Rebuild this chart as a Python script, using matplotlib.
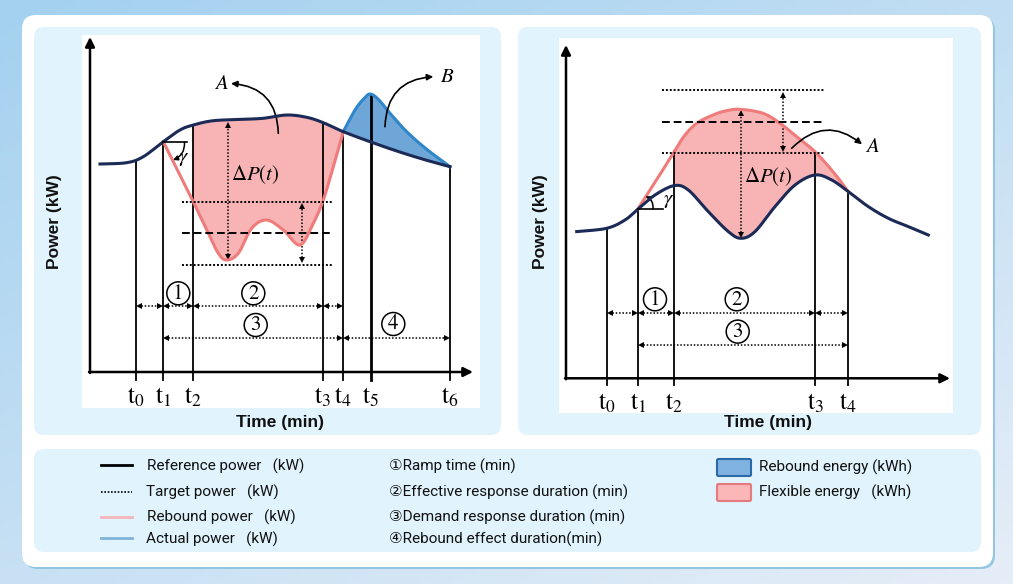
import numpy as np
import matplotlib.pyplot as plt
from matplotlib.patches import FancyBboxPatch, Circle

plt.rcParams['mathtext.fontset'] = 'stix'

# === DATA (schematic units: offset from each axis origin) ===
# left panel: rebound case
L_ref_x = [10, 36.7, 53.3, 73.3, 90, 103.3, 123.3, 153.3, 173.3, 196.7, 216.7, 233.3, 253.3, 280, 306.7, 333.3, 360]
L_ref_y = [208, 209.3, 215.3, 230.3, 242, 247, 251.3, 252.7, 253.7, 257, 254.7, 249.3, 240.3, 230.3, 221, 212.7, 205.3]
L_pink_x = [73.3, 88.3, 103.3, 116.7, 128.3, 136.7, 148.3, 161.7, 176.7, 193.3, 210, 223.3, 233.3, 243.3, 253.3]
L_pink_y = [230.3, 200.3, 170.3, 142, 118.7, 112, 118.7, 143.7, 152, 142, 127, 148.7, 172, 205.3, 240.3]
L_blue_x = [253.3, 265, 273.3, 280, 288.3, 300, 316.7, 336.7, 360]
L_blue_y = [240.3, 262, 272.7, 278, 272.7, 258.7, 240.3, 222.7, 205.3]
L_times = [46, 73.3, 103.3, 232.7, 253.3, 280.7, 360]
L_time_top = [210, 230.3, 247, 249.3, 240.3, 277, 205.3]
L_levels = [170.3, 138.7, 107]

# right panel: upward response case
R_ref_x = [10.7, 40.7, 59, 71.7, 89, 108.3, 122.3, 142.3, 162.3, 175, 189, 209, 229, 249, 265.7, 282.3, 302.3, 322.3, 342.3, 362.3]
R_ref_y = [146.7, 150, 158.3, 169, 183.3, 192.7, 188.3, 166.7, 146.7, 140, 146.7, 171.7, 193.3, 203.3, 198.3, 186.7, 171.7, 160, 151.7, 143.3]
R_pink_x = [71.7, 89, 107.3, 118, 130.7, 147, 160, 174, 197, 214, 230.7, 249, 267, 282.3]
R_pink_y = [169, 196, 225, 242, 255, 263.3, 267.5, 269, 265, 255, 241.6, 226.6, 206.6, 186.7]
R_times = [40.7, 71.7, 108.3, 249, 282.3]
R_time_top = [150, 169, 227.7, 226.6, 186.7]
R_levels = [288.3, 256.7, 225.7]

REF = '#1b2a56'
PINK = '#ef7b7b'
PINK_FILL = '#f8b4b4'
BLUE = '#2f86c9'
BLUE_FILL = '#6fa6d8'


def smooth(xs, ys, n=24):
    # Catmull-Rom drawing of a curve through the read points
    pts = np.column_stack([xs, ys]).astype(float)
    p = np.vstack([pts[0], pts, pts[-1]])
    t = np.linspace(0, 1, n, endpoint=False)[:, None]
    out = []
    for i in range(1, len(p) - 2):
        p0, p1, p2, p3 = p[i - 1], p[i], p[i + 1], p[i + 2]
        out.append(0.5 * (2 * p1 + (-p0 + p2) * t + (2 * p0 - 5 * p1 + 4 * p2 - p3) * t ** 2
                          + (-p0 + 3 * p1 - 3 * p2 + p3) * t ** 3))
    out.append(pts[-1:])
    return np.vstack(out)


def band(upper, lower, x0, x1):
    a = upper[(upper[:, 0] >= x0 - 0.01) & (upper[:, 0] <= x1 + 0.01)]
    b = lower[(lower[:, 0] >= x0 - 0.01) & (lower[:, 0] <= x1 + 0.01)][::-1]
    return np.vstack([a, b])


def harrow(ax, x0, x1, y):
    ax.plot([x0 + 2, x1 - 2], [y, y], ls=(0, (1, 1.2)), color='k', lw=1.1)
    ax.plot([x0 + 3], [y], marker='<', ms=4, color='k', mew=0)
    ax.plot([x1 - 3], [y], marker='>', ms=4, color='k', mew=0)


def varrow(ax, x, y0, y1):
    ax.plot([x, x], [y0 + 2, y1 - 2], ls=(0, (1, 1.2)), color='k', lw=1.1)
    ax.plot([x], [y0 + 3], marker='v', ms=4, color='k', mew=0)
    ax.plot([x], [y1 - 3], marker='^', ms=4, color='k', mew=0)


def circ(ax, x, y, s):
    ax.add_patch(Circle((x, y), 11.5, fill=False, lw=1.1, color='k', zorder=5))
    ax.text(x, y - 0.5, s, ha='center', va='center', fontsize=15, zorder=5,
            family='STIXGeneral')


def setup(ax, xlim, ylim, xend, yend):
    ax.set_xlim(*xlim)
    ax.set_ylim(*ylim)
    ax.set_facecolor('white')
    for s in ax.spines.values():
        s.set_visible(False)
    ax.set_xticks([])
    ax.set_yticks([])
    ax.annotate('', xy=(0, yend), xytext=(0, -1),
                arrowprops=dict(arrowstyle='-|>', lw=1.8, color='k', mutation_scale=14,
                                shrinkA=0, shrinkB=0))
    ax.annotate('', xy=(xend, 0), xytext=(-1, 0),
                arrowprops=dict(arrowstyle='-|>', lw=1.8, color='k', mutation_scale=14,
                                shrinkA=0, shrinkB=0))


W, H = 1013, 584
fig = plt.figure(figsize=(W / 100, H / 100), dpi=100)

# background, cards and panels in pixel coordinates
bg = fig.add_axes([0, 0, 1, 1], zorder=-1)
bg.set_xlim(0, W)
bg.set_ylim(H, 0)
bg.axis('off')
gx, gy = np.meshgrid(np.linspace(0, 1, 200), np.linspace(0, 1, 120))
grad = np.clip(0.55 * gy + 0.45 * gx, 0, 1)
c0 = np.array([0.64, 0.82, 0.94])
c1 = np.array([0.90, 0.93, 0.97])
img = c0 + (c1 - c0) * grad[..., None]
bg.imshow(img, extent=[0, W, H, 0], aspect='auto', zorder=0)
bg.add_patch(FancyBboxPatch((24, 17), 971, 552, boxstyle='round,pad=0,rounding_size=14',
                            fc='#93c6e0', ec='none', zorder=1))
bg.add_patch(FancyBboxPatch((22, 15), 971, 552, boxstyle='round,pad=0,rounding_size=14',
                            fc='white', ec='none', zorder=2))
for (x0, y0, w, h) in [(34, 27, 467, 408), (518, 27, 463, 408), (34, 449, 947, 103)]:
    bg.add_patch(FancyBboxPatch((x0, y0), w, h, boxstyle='round,pad=0,rounding_size=10',
                                fc='#e1f3fc', ec='none', zorder=3))

lab = dict(fontsize=12.5, fontweight='bold', family='Liberation Sans', color='#111111', zorder=5)
bg.text(55, 222, 'Power (kW)', rotation=90, ha='center', va='center', **lab)
bg.text(280, 422, 'Time (min)', ha='center', va='center', **lab)
bg.text(541, 222, 'Power (kW)', rotation=90, ha='center', va='center', **lab)
bg.text(768, 423, 'Time (min)', ha='center', va='center', **lab)

# legend
leg = dict(fontsize=11, family=['Roboto', 'DejaVu Sans'], va='center', color='#111111', zorder=5)
bg.plot([101, 132], [465, 465], color='k', lw=2, zorder=5)
bg.plot([101, 132], [491.5, 491.5], color='k', lw=1.2, ls=(0, (1, 1)), zorder=5)
bg.plot([101, 132], [516.5, 516.5], color='#f3b5b8', lw=2, zorder=5)
bg.plot([101, 132], [537.5, 537.5], color='#7fb3da', lw=2, zorder=5)
bg.text(147, 466, 'Reference power   (kW)', **leg)
bg.text(146, 492, 'Target power   (kW)', **leg)
bg.text(147, 517, 'Rebound power   (kW)', **leg)
bg.text(146, 539, 'Actual power   (kW)', **leg)
bg.text(389, 466, '\u2460Ramp time (min)', **leg)
bg.text(389, 492, '\u2461Effective response duration (min)', **leg)
bg.text(389, 517, '\u2462Demand response duration (min)', **leg)
bg.text(389, 539, '\u2463Rebound effect duration(min)', **leg)
bg.add_patch(FancyBboxPatch((717, 459), 34, 17, boxstyle='round,pad=0,rounding_size=1.5',
                            fc='#7fb2df', ec='#2a6aa8', lw=1.5, zorder=5))
bg.add_patch(FancyBboxPatch((717, 484), 34, 17, boxstyle='round,pad=0,rounding_size=1.5',
                            fc='#fbb6b8', ec='#e57b7e', lw=1.5, zorder=5))
bg.text(759, 467, 'Rebound energy (kWh)', **leg)
bg.text(759, 492, 'Flexible energy   (kWh)', **leg)

tl = ['$\\mathrm{t}_{%d}$' % i for i in range(7)]

# === LEFT PANEL ===
axL = fig.add_axes([82 / W, 1 - 408 / H, 398 / W, 373 / H])
setup(axL, (-8, 390), (-36, 337), 383, 335)
ref = smooth(L_ref_x, L_ref_y)
pink = smooth(L_pink_x, L_pink_y)
blue = smooth(L_blue_x, L_blue_y)
axL.fill(*band(ref, pink, L_times[2], L_times[4]).T, color=PINK_FILL, lw=0, zorder=1)
axL.fill(*band(blue, ref, L_times[4], L_times[6]).T, color=BLUE_FILL, lw=0, zorder=1)
for i, (t, top) in enumerate(zip(L_times, L_time_top)):
    axL.plot([t, t], [-8, top], color='k', lw=2 if i == 5 else 1.3, zorder=2)
    axL.text(t, -25, tl[i], ha='center', va='center', fontsize=18)
axL.plot(pink[:, 0], pink[:, 1], color=PINK, lw=2.2, zorder=3)
axL.plot(blue[:, 0], blue[:, 1], color=BLUE, lw=2.2, zorder=3)
axL.plot(ref[:, 0], ref[:, 1], color=REF, lw=2.2, zorder=4)
for lv, ls in zip(L_levels, [(0, (1, 1)), (0, (4, 2)), (0, (1, 1))]):
    axL.plot([91.7, 241.7], [lv, lv], color='k', lw=1.4, ls=ls, zorder=4)
varrow(axL, 137.7, 112, 250.3)
varrow(axL, 211.7, 108.7, 168.7)
axL.text(165, 197, '$\\Delta P(t)$', ha='center', va='center', fontsize=15, zorder=5)
axL.text(131.7, 288.7, '$A$', ha='center', va='center', fontsize=15)
axL.text(357, 296, '$B$', ha='center', va='center', fontsize=15)
axL.annotate('', xy=(141, 288.5), xytext=(188.3, 238.7),
             arrowprops=dict(arrowstyle='-|>', lw=1.2, color='k', mutation_scale=9,
                             connectionstyle='arc3,rad=0.45', shrinkA=0, shrinkB=0))
axL.annotate('', xy=(343.3, 295.3), xytext=(295, 245.3),
             arrowprops=dict(arrowstyle='-|>', lw=1.2, color='k', mutation_scale=9,
                             connectionstyle='arc3,rad=-0.45', shrinkA=0, shrinkB=0))
axL.plot([73.3, 96.7], [230.3, 230.3], color='k', lw=1.2, zorder=4)
axL.annotate('', xy=(83, 212), xytext=(94.5, 229.5),
             arrowprops=dict(arrowstyle='-|>', lw=1.1, color='k', mutation_scale=7,
                             connectionstyle='arc3,rad=-0.35', shrinkA=0, shrinkB=0))
axL.text(94, 214, '$\\gamma$', ha='center', va='center', fontsize=15)
t = L_times
for a, b in [(t[0], t[1]), (t[1], t[2]), (t[2], t[3]), (t[3], t[4])]:
    harrow(axL, a, b, 66)
for a, b in [(t[1], t[4]), (t[4], t[6])]:
    harrow(axL, a, b, 33.7)
circ(axL, 88.3, 78.7, '1')
circ(axL, 163.3, 78.7, '2')
circ(axL, 165.7, 47, '3')
circ(axL, 303.3, 48, '4')

# === RIGHT PANEL ===
axR = fig.add_axes([559 / W, 1 - 413 / H, 394 / W, 375 / H])
setup(axR, (-7, 387), (-34.7, 340.3), 384, 333.3)
ref = smooth(R_ref_x, R_ref_y)
pink = smooth(R_pink_x, R_pink_y)
axR.fill(*band(pink, ref, R_times[2], R_times[4]).T, color=PINK_FILL, lw=0, zorder=1)
for i, (t, top) in enumerate(zip(R_times, R_time_top)):
    axR.plot([t, t], [-7, top], color='k', lw=1.3, zorder=2)
    axR.text(t, -25, tl[i], ha='center', va='center', fontsize=18)
axR.plot(pink[:, 0], pink[:, 1], color=PINK, lw=2.2, zorder=3)
axR.plot(ref[:, 0], ref[:, 1], color=REF, lw=2.2, zorder=4)
for lv, ls in zip(R_levels, [(0, (1, 1)), (0, (4, 2)), (0, (1, 1))]):
    axR.plot([95.7, 259], [lv, lv], color='k', lw=1.4, ls=ls, zorder=4)
varrow(axR, 175, 140, 268.3)
varrow(axR, 216.7, 226.7, 286.7)
axR.text(202.3, 201.7, '$\\Delta P(t)$', ha='center', va='center', fontsize=15, zorder=5)
axR.text(306, 232.3, '$A$', ha='center', va='center', fontsize=15)
axR.annotate('', xy=(296, 234), xytext=(225.7, 230),
             arrowprops=dict(arrowstyle='-|>', lw=1.2, color='k', mutation_scale=9,
                             connectionstyle='arc3,rad=-0.45', shrinkA=0, shrinkB=0))
axR.plot([71.7, 97.3], [169, 169], color='k', lw=1.2, zorder=4)
axR.annotate('', xy=(79.5, 182), xytext=(87, 169.5),
             arrowprops=dict(arrowstyle='-|>', lw=1.1, color='k', mutation_scale=7,
                             connectionstyle='arc3,rad=0.35', shrinkA=0, shrinkB=0))
axR.text(102.5, 178, '$\\gamma$', ha='center', va='center', fontsize=15)
t = R_times
for a, b in [(t[0], t[1]), (t[1], t[2]), (t[2], t[3]), (t[3], t[4])]:
    harrow(axR, a, b, 65)
harrow(axR, t[1], t[4], 33.3)
circ(axR, 89, 79, '1')
circ(axR, 170.7, 79, '2')
circ(axR, 171.7, 46.7, '3')

fig.savefig('out.png', dpi=100)
